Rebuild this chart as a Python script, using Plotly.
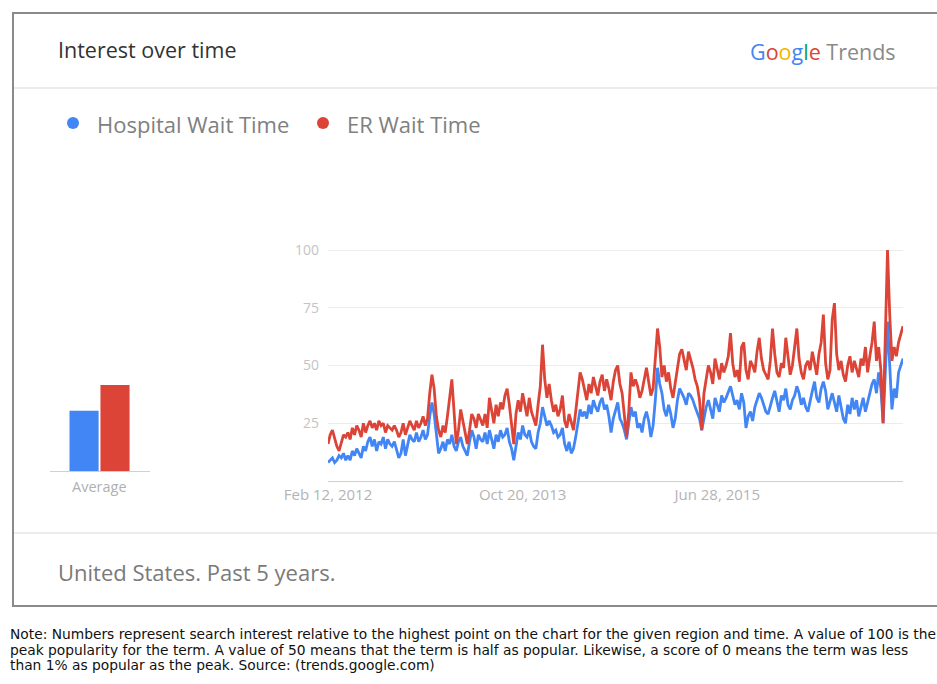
import plotly.graph_objects as go
import pandas as pd

# ---------------- data ----------------
start_date = "2012-02-12"
hospital = [
    8, 9, 10, 8, 9, 11, 10, 12, 9, 11,
    9, 13, 11, 14, 12, 10, 15, 13, 17, 19,
    15, 18, 13, 17, 16, 19, 14, 18, 16, 15,
    17, 13, 10, 12, 18, 11, 16, 20, 18, 17,
    21, 17, 19, 22, 18, 20, 28, 34, 29, 20,
    12, 14, 17, 13, 18, 16, 20, 15, 13, 17,
    19, 15, 13, 11, 17, 22, 19, 14, 20, 18,
    17, 21, 16, 22, 18, 14, 20, 17, 22, 19,
    20, 23, 17, 14, 9, 16, 21, 18, 24, 20,
    19, 22, 17, 15, 14, 21, 25, 32, 28, 24,
    26, 24, 21, 22, 19, 20, 23, 16, 13, 17,
    12, 14, 19, 25, 31, 28, 30, 27, 33, 29,
    35, 32, 30, 34, 36, 31, 33, 28, 21, 27,
    30, 34, 27, 25, 22, 18, 25, 32, 28, 30,
    23, 25, 21, 27, 30, 26, 19, 24, 35, 49,
    42, 38, 31, 28, 33, 29, 23, 27, 35, 40,
    38, 36, 33, 38, 37, 35, 32, 29, 27, 22,
    28, 32, 35, 31, 27, 36, 33, 30, 37, 34,
    36, 39, 41, 37, 33, 35, 31, 38, 34, 23,
    28, 30, 26, 32, 35, 38, 36, 33, 30, 29,
    33, 36, 39, 34, 30, 37, 35, 40, 33, 31,
    35, 37, 41, 38, 33, 36, 32, 30, 35, 39,
    43, 36, 34, 40, 43, 39, 31, 35, 38, 34,
    30, 37, 32, 27, 25, 33, 29, 36, 31, 35,
    28, 32, 36, 30, 34, 39, 42, 44, 38, 47,
    40, 25, 45, 69, 50, 31, 40, 36, 47, 50, 53,
]
er = [
    16, 20, 22, 18, 15, 13, 17, 20, 19, 21,
    18, 23, 20, 24, 22, 19, 25, 21, 24, 26,
    23, 25, 22, 26, 24, 25, 21, 24, 23, 22,
    24, 22, 19, 21, 25, 20, 23, 26, 24, 22,
    26, 23, 25, 28, 24, 27, 38, 46, 40, 28,
    22, 19, 24, 21, 28, 36, 44, 30, 16, 22,
    31, 26, 20, 16, 22, 29, 27, 23, 29, 26,
    24, 29, 23, 36, 30, 25, 33, 28, 34, 31,
    37, 40, 33, 24, 16, 29, 35, 30, 38, 33,
    28, 36, 30, 27, 24, 33, 41, 59, 44, 36,
    42, 35, 30, 33, 28, 31, 37, 26, 23, 29,
    25, 22, 30, 38, 47, 44, 40, 35, 42, 38,
    45, 41, 37, 43, 46, 39, 44, 40, 35, 43,
    48, 50, 42, 38, 28, 19, 30, 47, 41, 44,
    41, 36, 39, 45, 49, 43, 37, 40, 52, 66,
    58, 45, 50, 43, 47, 40, 36, 42, 48, 55,
    57, 52, 48, 56, 53, 49, 44, 41, 35, 22,
    38, 45, 50, 47, 42, 53, 49, 44, 51, 47,
    50, 54, 64, 51, 45, 48, 43, 58, 60, 48,
    44, 52, 50, 47, 56, 62, 53, 48, 46, 44,
    52, 66, 55, 47, 45, 51, 49, 62, 54, 46,
    50, 58, 66, 53, 47, 44, 50, 52, 48, 56,
    50, 46, 55, 60, 72, 51, 44, 48, 70, 77,
    55, 48, 52, 46, 43, 50, 54, 47, 52, 49,
    45, 53, 50, 58, 47, 54, 60, 69, 52, 58,
    48, 25, 60, 100, 72, 52, 58, 54, 60, 63, 67,
]
series_names = ["Hospital Wait Time", "ER Wait Time"]
averages = [28, 40]
y_ticks = [25, 50, 75, 100]
x_tick_dates = ["2012-02-12", "2013-10-20", "2015-06-28"]
x_tick_labels = ["Feb 12, 2012", "Oct 20, 2013", "Jun 28, 2015"]

BLUE = "#4285F4"
RED = "#DB4437"
W, H = 937, 684
FONT = "Open Sans, Roboto, Arial, sans-serif"


def px(x):
    return x / W


def py(y):
    return 1 - y / H


dates = pd.date_range(start_date, periods=len(er), freq="7D")

fig = go.Figure()
fig.add_trace(go.Scatter(x=dates, y=hospital, mode="lines", name=series_names[0],
                         line=dict(color=BLUE, width=2.8), xaxis="x", yaxis="y"))
fig.add_trace(go.Scatter(x=dates, y=er, mode="lines", name=series_names[1],
                         line=dict(color=RED, width=2.8), xaxis="x", yaxis="y"))
fig.add_trace(go.Bar(x=series_names, y=averages, marker=dict(color=[BLUE, RED], line=dict(width=0)),
                     width=0.94, xaxis="x2", yaxis="y2"))

ppu = (481 - 250) / 100.0
fig.update_layout(
    width=W, height=H,
    margin=dict(l=0, r=0, t=0, b=0, autoexpand=False),
    paper_bgcolor="white", plot_bgcolor="white",
    showlegend=False,
    font=dict(family=FONT),
    xaxis=dict(domain=[px(328), px(903)], range=[dates[0], dates[-1]], type="date",
               tickvals=x_tick_dates, ticktext=x_tick_labels, showgrid=False,
               showline=True, linecolor="#cfcfcf", linewidth=1, ticks="",
               tickfont=dict(size=15, color="#b4b4b4"), zeroline=False),
    yaxis=dict(domain=[py(481), py(250 - 2 * ppu)], range=[0, 102], tickvals=y_ticks,
               showgrid=True, gridcolor="#ececec", gridwidth=1, zeroline=False,
               ticks="", ticklabelstandoff=8,
               tickfont=dict(size=14, color="#c4c4c4"), showline=False),
    xaxis2=dict(domain=[px(50), px(150)], anchor="y2", range=[-1.1, 2.13],
                showticklabels=False, ticks="", showgrid=False, showline=True,
                linecolor="#d0d0d0", linewidth=1, zeroline=False),
    yaxis2=dict(domain=[py(471), py(471 - 50 * 2.15)], anchor="x2", range=[0, 50],
                showticklabels=False, showgrid=False, zeroline=False, showline=False),
    bargap=0.05,
)

shapes = [
    # card border
    dict(type="rect", xref="paper", yref="paper", x0=px(13), x1=px(945), y0=py(606), y1=py(13),
         line=dict(color="#8a8a8a", width=2), fillcolor="rgba(0,0,0,0)", layer="below"),
    # dividers
    dict(type="line", xref="paper", yref="paper", x0=px(14), x1=1, y0=py(88), y1=py(88),
         line=dict(color="#e6e6e6", width=1.5)),
    dict(type="line", xref="paper", yref="paper", x0=px(14), x1=1, y0=py(533), y1=py(533),
         line=dict(color="#e6e6e6", width=1.5)),
    # legend dots
    dict(type="circle", xref="paper", yref="paper", x0=px(67), x1=px(79), y0=py(129), y1=py(117),
         line=dict(width=0), fillcolor=BLUE),
    dict(type="circle", xref="paper", yref="paper", x0=px(317), x1=px(329), y0=py(129), y1=py(117),
         line=dict(width=0), fillcolor=RED),
]

google = ("<span style='color:#4285F4'>G</span><span style='color:#DB4437'>o</span>"
          "<span style='color:#F4B400'>o</span><span style='color:#4285F4'>g</span>"
          "<span style='color:#0F9D58'>l</span><span style='color:#DB4437'>e</span>"
          "<span style='color:#8a8a8a'> Trends</span>")

note = [
    "Note: Numbers represent search interest relative to the highest point on the chart for the given region and time. A value of 100 is the",
    "peak popularity for the term. A value of 50 means that the term is half as popular. Likewise, a score of 0 means the term was less",
    "than 1% as popular as the peak. Source: (trends.google.com)",
]

ann = [
    dict(text="Interest over time", x=px(56), y=py(49), xanchor="left", yanchor="middle",
         font=dict(size=21.5, color="#333333")),
    dict(text=google, x=px(898), y=py(51), xanchor="right", yanchor="middle",
         font=dict(size=21.5)),
    dict(text=series_names[0], x=px(95), y=py(124), xanchor="left", yanchor="middle",
         font=dict(size=22, color="#808080")),
    dict(text=series_names[1], x=px(345), y=py(124), xanchor="left", yanchor="middle",
         font=dict(size=22, color="#808080")),
    dict(text="Average", x=px(99), y=py(486), xanchor="center", yanchor="middle",
         font=dict(size=14.5, color="#b0b0b0")),
    dict(text="United States. Past 5 years.", x=px(56), y=py(572), xanchor="left", yanchor="middle",
         font=dict(size=22, color="#7a7a7a")),
]
for i, line in enumerate(note):
    ann.append(dict(text=line, x=px(8), y=py(634 + 15.5 * i), xanchor="left", yanchor="middle",
                    font=dict(size=13.8, color="#111111", family="DejaVu Sans, Arial, sans-serif")))
for a in ann:
    a.update(xref="paper", yref="paper", showarrow=False)

fig.update_layout(shapes=shapes, annotations=ann)
fig.write_html("out.html")
